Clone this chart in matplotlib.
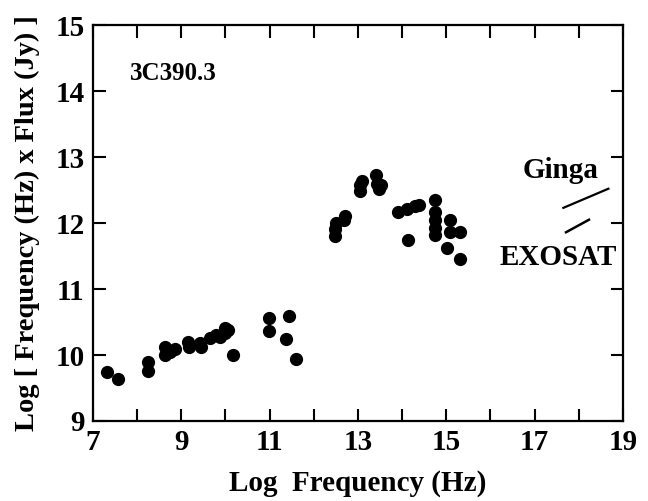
import matplotlib
matplotlib.use('Agg')
import matplotlib.pyplot as plt

# Log frequency (Hz) and log(nu * F_nu) for 3C390.3
log_freq = [7.32, 7.57, 8.24, 8.24, 8.63, 8.63, 8.86, 8.75,
            9.15, 9.17, 9.42, 9.45, 9.65, 9.78, 9.88, 9.99, 10.0, 10.05, 10.17,
            10.98, 10.98, 11.44, 11.37, 11.60,
            12.48, 12.48, 12.50, 12.68, 12.71,
            13.04, 13.04, 13.09, 13.41, 13.43, 13.48, 13.52,
            13.91, 14.11, 14.29, 14.38, 14.13,
            14.74, 14.74, 14.74, 14.74, 14.74,
            15.08, 15.08, 15.31, 15.01, 15.31]
log_flux = [9.74, 9.64, 9.90, 9.76, 10.12, 10.00, 10.09, 10.05,
            10.20, 10.12, 10.18, 10.12, 10.26, 10.30, 10.27, 10.41, 10.33, 10.38, 10.00,
            10.56, 10.36, 10.59, 10.24, 9.94,
            11.80, 11.91, 12.00, 12.05, 12.11,
            12.58, 12.48, 12.64, 12.73, 12.59, 12.52, 12.58,
            12.17, 12.21, 12.26, 12.27, 11.74,
            12.35, 12.17, 12.05, 11.92, 11.82,
            12.05, 11.86, 11.86, 11.62, 11.45]

# X-ray spectral slopes
ginga_x = [17.65, 18.67]
ginga_y = [12.23, 12.52]
exosat_x = [17.71, 18.23]
exosat_y = [11.86, 12.05]

x_ticks = list(range(7, 20))
x_labels = [str(t) if t % 2 == 1 else '' for t in x_ticks]
y_ticks = list(range(9, 16))

plt.rcParams['font.family'] = ['Liberation Serif', 'DejaVu Serif']
plt.rcParams['font.weight'] = 'bold'

fig = plt.figure(figsize=(6.48, 5.01), dpi=100)
ax = fig.add_axes([0.1435, 0.1597, 0.8179, 0.7903])

ax.plot(log_freq, log_flux, 'o', color='black', markersize=8.5)
ax.plot(ginga_x, ginga_y, '-', color='black', lw=1.6)
ax.plot(exosat_x, exosat_y, '-', color='black', lw=1.8)

ax.text(18.45, 12.8, 'Ginga', ha='right', va='center', fontsize=21, fontweight='bold')
ax.text(18.86, 11.47, 'EXOSAT', ha='right', va='center', fontsize=21, fontweight='bold')
ax.text(7.84, 14.27, '3C390.3', ha='left', va='center', fontsize=18, fontweight='bold')

ax.set_xlim(7, 19)
ax.set_ylim(9, 15)
ax.set_xticks(x_ticks)
ax.set_xticklabels(x_labels)
ax.set_yticks(y_ticks)
ax.tick_params(direction='in', length=9, width=1.5, top=True, right=True,
               labelsize=21, pad=6)
for s in ax.spines.values():
    s.set_linewidth(1.6)

ax.set_xlabel('Log  Frequency (Hz)', fontsize=21, fontweight='bold', labelpad=10)
ax.set_ylabel('Log [ Frequency (Hz) x Flux (Jy) ]', fontsize=20.5, fontweight='bold')
ax.yaxis.set_label_coords(-0.1, 0.5)

fig.savefig('out.png', dpi=100)
